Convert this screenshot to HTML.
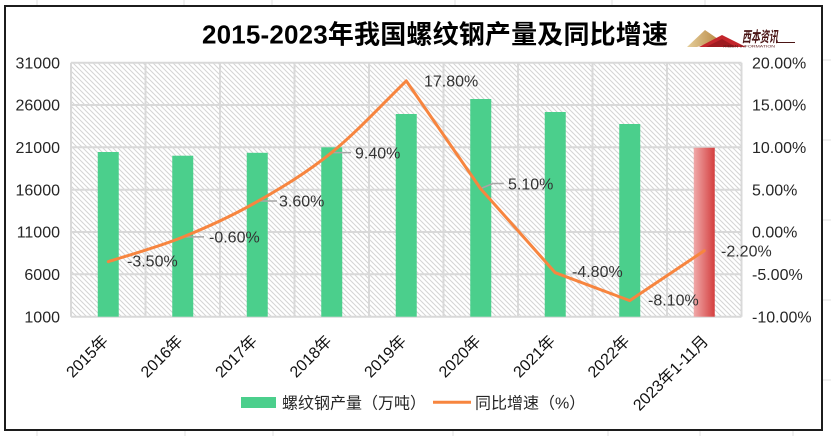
<!DOCTYPE html>
<html>
<head>
<meta charset="utf-8">
<style>
  html,body{margin:0;padding:0;background:#fff;}
  svg{display:block;}
  text{font-family:"Liberation Sans","Noto Sans CJK SC",sans-serif;}
</style>
</head>
<body>
<svg width="831" height="436" viewBox="0 0 831 436" xmlns="http://www.w3.org/2000/svg">
  <defs>
    <pattern id="hatch" width="5" height="5" patternUnits="userSpaceOnUse">
      <rect width="5" height="5" fill="#ffffff"/>
      <path d="M-1,-1L6,6M-1,4L1,6M4,-1L6,1" stroke="#d4d4d4" stroke-width="1"/>
    </pattern>
    <linearGradient id="redg" x1="0" y1="0" x2="1" y2="0">
      <stop offset="0" stop-color="#f0a9a9"/>
      <stop offset="1" stop-color="#d43f3f"/>
    </linearGradient>
    <linearGradient id="goldg" x1="0" y1="0" x2="1" y2="0">
      <stop offset="0" stop-color="#e6cf9c"/>
      <stop offset="1" stop-color="#b98a45"/>
    </linearGradient>
  </defs>

  <!-- spreadsheet faint grid outside chart -->
  <g stroke="#e2e2e2" stroke-width="1">
    <line x1="37" y1="0" x2="37" y2="6"/><line x1="184" y1="0" x2="184" y2="6"/>
    <line x1="272" y1="0" x2="272" y2="6"/><line x1="455" y1="0" x2="455" y2="6"/>
    <line x1="612" y1="0" x2="612" y2="6"/><line x1="705" y1="0" x2="705" y2="6"/>
    <line x1="37" y1="431" x2="37" y2="436"/><line x1="185" y1="431" x2="185" y2="436"/>
    <line x1="273" y1="431" x2="273" y2="436"/><line x1="453" y1="431" x2="453" y2="436"/>
    <line x1="608" y1="431" x2="608" y2="436"/><line x1="700" y1="431" x2="700" y2="436"/>
    <line x1="793" y1="431" x2="793" y2="436"/>
    <line x1="823" y1="60" x2="831" y2="60"/><line x1="823" y1="140" x2="831" y2="140"/>
    <line x1="823" y1="220" x2="831" y2="220"/><line x1="823" y1="300" x2="831" y2="300"/>
    <line x1="823" y1="380" x2="831" y2="380"/>
  </g>

  <!-- chart border -->
  <rect x="5" y="6" width="817" height="424" fill="#ffffff" stroke="#1c1c1c" stroke-width="2"/>

  <!-- title -->
  <text x="202" y="43.5" font-size="26" font-weight="bold" fill="#000" textLength="466" lengthAdjust="spacing">2015-2023年我国螺纹钢产量及同比增速</text>

  <!-- logo -->
  <g>
    <polygon points="687,47 705,30 718,39 709,43 697,47" fill="url(#goldg)"/>
    <polygon points="699,47 722,35 746,47" fill="#c4262c"/>
    <polygon points="706,47 722,39 736,47" fill="#9e1b20"/>
    <text x="742" y="42" font-size="15" font-style="italic" font-weight="bold" fill="#4a1515" textLength="36" lengthAdjust="spacingAndGlyphs">西本资讯</text>
    <line x1="776" y1="42.5" x2="795" y2="42.5" stroke="#4a1515" stroke-width="1"/>
    <text x="723" y="47.5" font-size="4" fill="#5a1a1a" textLength="52" lengthAdjust="spacingAndGlyphs">XIBEN INFORMATION</text>
  </g>

  <!-- plot area -->
  <rect x="71" y="62.7" width="670.5" height="254" fill="url(#hatch)"/>
  <g stroke="#d9d9d9" stroke-width="2">
    <line x1="71" y1="62.7" x2="741.5" y2="62.7"/>
    <line x1="71" y1="105" x2="741.5" y2="105"/>
    <line x1="71" y1="147.3" x2="741.5" y2="147.3"/>
    <line x1="71" y1="189.7" x2="741.5" y2="189.7"/>
    <line x1="71" y1="232" x2="741.5" y2="232"/>
    <line x1="71" y1="274.3" x2="741.5" y2="274.3"/>
    <line x1="71" y1="316.7" x2="741.5" y2="316.7"/>
    <line x1="71" y1="62.7" x2="71" y2="316.7"/>
    <line x1="145.5" y1="62.7" x2="145.5" y2="316.7"/>
    <line x1="220" y1="62.7" x2="220" y2="316.7"/>
    <line x1="294.5" y1="62.7" x2="294.5" y2="316.7"/>
    <line x1="369" y1="62.7" x2="369" y2="316.7"/>
    <line x1="443.5" y1="62.7" x2="443.5" y2="316.7"/>
    <line x1="518" y1="62.7" x2="518" y2="316.7"/>
    <line x1="592.5" y1="62.7" x2="592.5" y2="316.7"/>
    <line x1="667" y1="62.7" x2="667" y2="316.7"/>
    <line x1="741.5" y1="62.7" x2="741.5" y2="316.7"/>
  </g>

  <!-- bars -->
  <g fill="#4bcf8c">
    <rect x="97.75" y="152" width="21" height="164.7"/>
    <rect x="172.25" y="155.7" width="21" height="161"/>
    <rect x="246.75" y="152.8" width="21" height="163.9"/>
    <rect x="321.25" y="147.3" width="21" height="169.4"/>
    <rect x="395.75" y="114" width="21" height="202.7"/>
    <rect x="470.25" y="99" width="21" height="217.7"/>
    <rect x="544.75" y="112" width="21" height="204.7"/>
    <rect x="619.25" y="124" width="21" height="192.7"/>
  </g>
  <rect x="693.75" y="147.7" width="21" height="169" fill="url(#redg)"/>

  <!-- leader lines -->
  <g stroke="#a6a6a6" stroke-width="1.5" fill="none">
    <line x1="184" y1="236.9" x2="204" y2="236.9"/>
    <line x1="259" y1="201" x2="277" y2="201"/>
    <line x1="333" y1="152.6" x2="351" y2="152.6"/>
    <polyline points="482,188 493,183.5 504,183.5"/>
  </g>

  <!-- growth line -->
  <path d="M108.25,261.7 C120.65,257.6 157.95,247.1 182.75,237.1 C207.55,227.1 232.45,215.7 257.25,201.6 C282.05,187.5 306.95,172.45 331.75,152.4 C356.55,132.35 381.5,105 406.25,80.9 L480.75,188.9 L555.25,272.7 L629.75,300.6 L704.25,250.7" fill="none" stroke="#f7853f" stroke-width="3" stroke-linejoin="round" stroke-linecap="round"/>

  <!-- data labels -->
  <g font-size="16" fill="#333333">
    <text x="127" y="266.5">-3.50%</text>
    <text x="209" y="242.5">-0.60%</text>
    <text x="279" y="206.7">3.60%</text>
    <text x="355" y="158.3">9.40%</text>
    <text x="424" y="86.5">17.80%</text>
    <text x="508" y="189.3">5.10%</text>
    <text x="572" y="277.2">-4.80%</text>
    <text x="648" y="305.5">-8.10%</text>
    <text x="721" y="256.5">-2.20%</text>
  </g>

  <!-- left axis -->
  <g font-size="16" fill="#262626" text-anchor="end">
    <text x="60" y="68.4">31000</text>
    <text x="60" y="110.7">26000</text>
    <text x="60" y="153">21000</text>
    <text x="60" y="195.4">16000</text>
    <text x="60" y="237.7">11000</text>
    <text x="60" y="280">6000</text>
    <text x="60" y="322.4">1000</text>
  </g>

  <!-- right axis -->
  <g font-size="16" fill="#262626">
    <text x="752" y="68.4">20.00%</text>
    <text x="752" y="110.7">15.00%</text>
    <text x="752" y="153">10.00%</text>
    <text x="752" y="195.4">5.00%</text>
    <text x="752" y="237.7">0.00%</text>
    <text x="752" y="280">-5.00%</text>
    <text x="752" y="322.4">-10.00%</text>
  </g>

  <!-- x labels -->
  <g font-size="16" fill="#111111" text-anchor="end">
    <text transform="translate(109.25,342) rotate(-45)">2015年</text>
    <text transform="translate(183.75,342) rotate(-45)">2016年</text>
    <text transform="translate(258.25,342) rotate(-45)">2017年</text>
    <text transform="translate(332.75,342) rotate(-45)">2018年</text>
    <text transform="translate(407.25,342) rotate(-45)">2019年</text>
    <text transform="translate(481.75,342) rotate(-45)">2020年</text>
    <text transform="translate(556.25,342) rotate(-45)">2021年</text>
    <text transform="translate(630.75,342) rotate(-45)">2022年</text>
    <text transform="translate(709.25,342) rotate(-45)">2023年1-11月</text>
  </g>

  <!-- legend -->
  <rect x="241" y="397" width="35" height="11" fill="#4bcf8c"/>
  <text x="282" y="408.5" font-size="16" fill="#262626">螺纹钢产量（万吨）</text>
  <line x1="433" y1="402.3" x2="471" y2="402.3" stroke="#f7853f" stroke-width="3"/>
  <text x="475" y="408.5" font-size="16" fill="#262626">同比增速（%）</text>
</svg>
</body>
</html>
